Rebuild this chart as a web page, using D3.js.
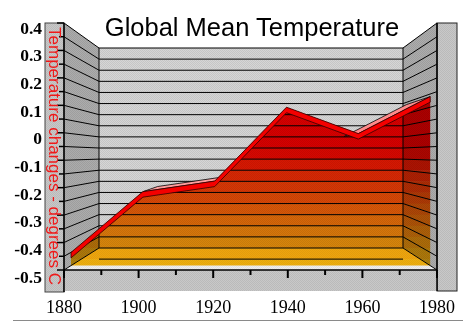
<!DOCTYPE html>
<html>
<head>
<meta charset="utf-8">
<script src="https://cdn.jsdelivr.net/npm/d3@7"></script>
<style>
  body { margin: 0; background: #fff; }
</style>
</head>
<body>
<div id="chart"></div>
<script>
const years = [1880, 1900, 1920, 1940, 1960, 1980];
const anomaly = [-0.45, -0.22, -0.18, 0.10, 0.00, 0.14];
const yTicks = [0.4, 0.3, 0.2, 0.1, 0, -0.1, -0.2, -0.3, -0.4, -0.5];
const xTicks = [1880, 1900, 1920, 1940, 1960, 1980];
const chartTitle = "Global Mean Temperature";
const yTitle = "Temperature changes - degrees C";

const width = 476, height = 326;

let svg = d3.select("#chart")
    .append("svg")
    .attr("width", width)
    .attr("height", height);

// front and back planes of the 3d box
let xFront = d3.scaleLinear().domain([1880, 1980]).range([64, 437]);
let xBack = d3.scaleLinear().domain([1880, 1980]).range([99, 403]);
let yFront = d3.scaleLinear().domain([-0.5, 0.4]).range([270, 23]);
let yBack = d3.scaleLinear().domain([-0.5, 0.4]).range([248, 48]);
let yLabel = d3.scaleLinear().domain([-0.5, 0.4]).range([276.5, 27.5]);

// depth of the series ribbon (0 = front, 1 = back wall)
const zFace = 0.2, zRear = 0.9;

function P(yr, v, z) {
    return [xFront(yr) + (xBack(yr) - xFront(yr)) * z,
            yFront(v) + (yBack(v) - yFront(v)) * z];
}

let grid = d3.range(19).map(function (i) { return -0.5 + i * 0.05; });

// stippled fills
let defs = svg.append("defs");
function stipple(id, a, b) {
    let p = defs.append("pattern").attr("id", id)
        .attr("width", 2).attr("height", 2)
        .attr("patternUnits", "userSpaceOnUse");
    p.append("rect").attr("width", 2).attr("height", 2).attr("fill", a);
    p.append("rect").attr("width", 1).attr("height", 1).attr("fill", b);
    p.append("rect").attr("x", 1).attr("y", 1).attr("width", 1).attr("height", 1).attr("fill", b);
}
stipple("backFill", "#d6d6d6", "#c6c6c6");
stipple("sideFill", "#acacac", "#9e9e9e");
stipple("panelFill", "#c8c8c8", "#bababa");
stipple("floorFill", "#eeeeee", "#e2e2e2");

let poly = function (pts) { return "M" + pts.map(function (p) { return p.join(","); }).join("L") + "Z"; };

// walls and floor
let walls = svg.append("g");
walls.append("path").attr("d", poly([P(1880, 0.4, 1), P(1980, 0.4, 1), P(1980, -0.5, 1), P(1880, -0.5, 1)]))
    .attr("fill", "url(#backFill)");
walls.append("path").attr("d", poly([P(1880, 0.4, 0), P(1880, 0.4, 1), P(1880, -0.5, 1), P(1880, -0.5, 0)]))
    .attr("fill", "url(#sideFill)");
walls.append("path").attr("d", poly([P(1980, 0.4, 0), P(1980, 0.4, 1), P(1980, -0.5, 1), P(1980, -0.5, 0)]))
    .attr("fill", "url(#sideFill)");
walls.append("path").attr("d", poly([P(1880, -0.5, 0), P(1880, -0.5, 1), P(1980, -0.5, 1), P(1980, -0.5, 0)]))
    .attr("fill", "url(#floorFill)");

// grid lines on the back and side walls
let gridG = svg.append("g").attr("stroke", "#000").attr("stroke-width", 1).attr("fill", "none");
grid.forEach(function (v) {
    gridG.append("path").attr("d", d3.line()([P(1880, v, 0), P(1880, v, 1), P(1980, v, 1), P(1980, v, 0)]));
});
gridG.append("path").attr("d", d3.line()([P(1880, 0.4, 1), P(1880, -0.5, 1)]));
gridG.append("path").attr("d", d3.line()([P(1980, 0.4, 1), P(1980, -0.5, 1)]));

// front face of the area, banded red to orange, see-through onto the walls
let faceTop = years.map(function (yr, i) { return P(yr, anomaly[i], zFace); });
let facePts = faceTop.concat([P(1980, -0.5, zFace), P(1880, -0.5, zFace)]);

defs.append("clipPath").attr("id", "faceClip")
    .append("path").attr("d", poly(facePts));

let bandEdges = d3.range(21).map(function (i) { return yBack(0.4 - i * 0.05); });
let bandColor = d3.interpolateRgb("#ff0000", "#ffbc10");

let bands = svg.append("g")
    .attr("clip-path", "url(#faceClip)")
    .style("mix-blend-mode", "multiply");
bands.selectAll("rect")
    .data(d3.pairs(bandEdges))
    .enter()
    .append("rect")
    .attr("x", 60)
    .attr("y", function (d) { return d[0]; })
    .attr("width", 380)
    .attr("height", function (d) { return d[1] - d[0] + 0.5; })
    .attr("fill", function (d) {
        let t = Math.max(0, Math.min(1, ((d[0] + d[1]) / 2 - 148) / 112));
        return bandColor(t);
    });

// band line where the face sits over the floor
svg.append("line")
    .attr("clip-path", "url(#faceClip)")
    .attr("x1", xBack(1880)).attr("x2", xBack(1980))
    .attr("y1", yBack(-0.55)).attr("y2", yBack(-0.55))
    .attr("stroke", "#000").attr("stroke-width", 1);

// top surface of the ribbon
let topColor = d3.interpolateRgb("#ff9e9e", "#ff1a1a");
let topG = svg.append("g");
d3.pairs(d3.range(years.length)).forEach(function (p) {
    let i = p[0], j = p[1];
    let f0 = P(years[i], anomaly[i], zFace), f1 = P(years[j], anomaly[j], zFace);
    let b0 = P(years[i], anomaly[i], zRear), b1 = P(years[j], anomaly[j], zRear);
    let ox = (b0[0] + b1[0] - f0[0] - f1[0]) / 2, oy = (b0[1] + b1[1] - f0[1] - f1[1]) / 2;
    let cross = (f1[0] - f0[0]) * oy - (f1[1] - f0[1]) * ox;
    if (cross >= 0) return;
    let angle = Math.atan2(Math.abs(f1[1] - f0[1]), f1[0] - f0[0]) * 180 / Math.PI;
    let t = Math.max(0, Math.min(1, (angle - 25) / 15));
    topG.append("path").attr("d", poly([f0, f1, b1, b0]))
        .attr("fill", topColor(t))
        .attr("stroke", "#000").attr("stroke-width", 0.8).attr("stroke-linejoin", "round");
});

// red lip along the front edge
let lip = faceTop.concat(faceTop.slice().reverse().map(function (p) { return [p[0], p[1] + 5.5]; }));
svg.append("path").attr("d", poly(lip))
    .attr("fill", "#f40000")
    .attr("stroke", "#300").attr("stroke-width", 0.8).attr("stroke-linejoin", "round");

// side panels and base strip
svg.append("rect").attr("x", 45).attr("y", 23).attr("width", 19).attr("height", 269)
    .attr("fill", "url(#panelFill)").attr("stroke", "#444").attr("stroke-width", 1);
svg.append("rect").attr("x", 437).attr("y", 23).attr("width", 20).attr("height", 268)
    .attr("fill", "url(#panelFill)").attr("stroke", "#222").attr("stroke-width", 1);
svg.append("rect").attr("x", 64).attr("y", 270).attr("width", 373).attr("height", 21)
    .attr("fill", "url(#panelFill)");

let axisG = svg.append("g").attr("stroke", "#000");
axisG.append("line").attr("x1", 64).attr("x2", 64).attr("y1", 23).attr("y2", 292).attr("stroke-width", 1.5);
axisG.append("line").attr("x1", 437).attr("x2", 437).attr("y1", 23).attr("y2", 291).attr("stroke-width", 1.5);
axisG.append("line").attr("x1", 64).attr("x2", 437).attr("y1", 270).attr("y2", 270).attr("stroke-width", 1.5);

// y ticks on the left panel
axisG.selectAll(".yt")
    .data(grid)
    .enter()
    .append("line")
    .attr("x1", 64)
    .attr("x2", function (d, i) { return i % 2 === 0 ? 57 : 59; })
    .attr("y1", function (d) { return yFront(d); })
    .attr("y2", function (d) { return yFront(d); })
    .attr("stroke-width", 1.5);

// x ticks every ten years
axisG.selectAll(".xt")
    .data(d3.range(1880, 1981, 10))
    .enter()
    .append("line")
    .attr("x1", function (d) { return xFront(d); })
    .attr("x2", function (d) { return xFront(d); })
    .attr("y1", 270)
    .attr("y2", function (d) { return d % 20 === 0 ? 278 : 275; })
    .attr("stroke-width", 2);

// tick labels
svg.append("g")
    .selectAll("text")
    .data(yTicks)
    .enter()
    .append("text")
    .attr("x", 42)
    .attr("y", function (d) { return yLabel(d); })
    .attr("dy", "0.35em")
    .attr("text-anchor", "end")
    .style("font-family", "'Liberation Serif', serif")
    .style("font-weight", "bold")
    .style("font-size", "17.5px")
    .text(function (d) { return d === 0 ? "0" : d3.format(".1f")(d).replace("−", "-"); });

svg.append("g")
    .selectAll("text")
    .data(xTicks)
    .enter()
    .append("text")
    .attr("x", function (d) { return xFront(d); })
    .attr("y", 313)
    .attr("text-anchor", "middle")
    .style("font-family", "'Liberation Serif', serif")
    .style("font-size", "18px")
    .text(function (d) { return d; });

svg.append("line")
    .attr("x1", 13).attr("x2", 463).attr("y1", 320.5).attr("y2", 320.5)
    .attr("stroke", "#8a8a8a").attr("stroke-width", 1);

// titles
svg.append("text")
    .attr("x", 252)
    .attr("y", 36)
    .attr("text-anchor", "middle")
    .style("font-family", "'Liberation Sans', Arial, sans-serif")
    .style("font-size", "25.5px")
    .text(chartTitle);

svg.append("text")
    .attr("transform", "translate(49,156) rotate(90)")
    .attr("text-anchor", "middle")
    .attr("fill", "#f01818")
    .style("font-family", "'Liberation Sans', Arial, sans-serif")
    .style("font-size", "17px")
    .text(yTitle);
</script>
</body>
</html>
